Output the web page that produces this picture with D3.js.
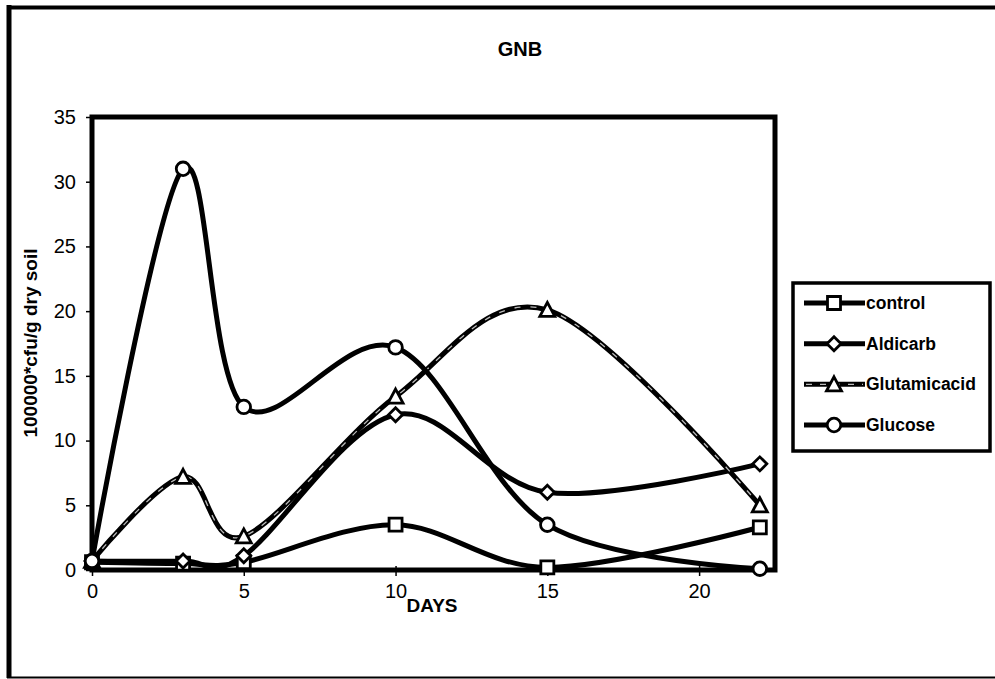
<!DOCTYPE html>
<html>
<head>
<meta charset="utf-8">
<script src="https://cdn.jsdelivr.net/npm/d3@7/dist/d3.min.js"></script>
<style>
  html, body { margin: 0; padding: 0; background: #fff; }
  svg { display: block; }
  text { font-family: "Liberation Sans", Arial, sans-serif; fill: #000; }
</style>
</head>
<body>
<svg id="chart" width="995" height="679"></svg>
<script>
// Sampling days and colony counts (x 100000 cfu/g dry soil)
const days = [0, 3, 5, 10, 15, 22];
const control = [0.6, 0.5, 0.6, 3.5, 0.2, 3.3];
const aldicarb = [0.7, 0.7, 1.1, 12.0, 6.0, 8.2];
const glutamicacid = [0.7, 7.2, 2.6, 13.4, 20.1, 5.0];
const glucose = [0.7, 31.0, 12.6, 17.2, 3.5, 0.1];
const seriesNames = ["control", "Aldicarb", "Glutamicacid", "Glucose"];
const seriesMarkers = ["square", "diamond", "triangle", "circle"];
const xTicks = [0, 5, 10, 15, 20];
const yTicks = [0, 5, 10, 15, 20, 25, 30, 35];

const seriesValues = [control, aldicarb, glutamicacid, glucose];
const series = seriesNames.map((name, i) => ({
  name,
  marker: seriesMarkers[i],
  points: days.map((d, j) => ({ x: d, y: seriesValues[i][j] }))
}));

const svg = d3.select("#chart");

// Outer frame
svg.append("line").attr("x1", 9).attr("x2", 9).attr("y1", 5).attr("y2", 678)
  .attr("stroke", "#000").attr("stroke-width", 5);
svg.append("line").attr("x1", 7).attr("x2", 995).attr("y1", 7.5).attr("y2", 7.5)
  .attr("stroke", "#000").attr("stroke-width", 4);
svg.append("line").attr("x1", 7).attr("x2", 995).attr("y1", 677.5).attr("y2", 677.5)
  .attr("stroke", "#000").attr("stroke-width", 2);

const plot = { left: 92, right: 775, top: 117, bottom: 570 };

const x = d3.scaleLinear().domain([0, 22.5]).range([plot.left, plot.right]);
const y = d3.scaleLinear().domain([0, 35]).range([plot.bottom, plot.top]);

// Title
svg.append("text").attr("x", 520).attr("y", 56).attr("text-anchor", "middle")
  .attr("font-size", 20).attr("font-weight", "bold").text("GNB");

// Axes
const yAxis = d3.axisLeft(y).tickValues(yTicks).tickSize(6).tickPadding(10);
const yG = svg.append("g").attr("transform", `translate(${plot.left},0)`).call(yAxis);
const xAxis = d3.axisBottom(x).tickValues(xTicks).tickSize(6).tickPadding(8);
const xG = svg.append("g").attr("transform", `translate(0,${plot.bottom})`).call(xAxis);
[yG, xG].forEach(g => {
  g.attr("font-size", 20).attr("font-family", "Liberation Sans, Arial, sans-serif");
  g.select(".domain").remove();
  g.selectAll(".tick line").attr("stroke", "#000").attr("stroke-width", 1.5);
  g.selectAll(".tick text").attr("fill", "#000");
});
xG.selectAll(".tick line").attr("y1", -4);

// Plot area border
svg.append("rect").attr("x", plot.left).attr("y", plot.top)
  .attr("width", plot.right - plot.left).attr("height", plot.bottom - plot.top)
  .attr("fill", "none").attr("stroke", "#000").attr("stroke-width", 5);

// Axis titles
svg.append("text").attr("x", 432).attr("y", 612).attr("text-anchor", "middle")
  .attr("font-size", 19).attr("font-weight", "bold").text("DAYS");
svg.append("text").attr("transform", "translate(37,343) rotate(-90)")
  .attr("text-anchor", "middle").attr("font-size", 19).attr("font-weight", "bold")
  .text("100000*cfu/g dry soil");

// Smoothed lines
const line = d3.line().x(d => x(d.x)).y(d => y(d.y)).curve(d3.curveCatmullRom.alpha(0));
const lineG = svg.append("g");
series.forEach(s => {
  lineG.append("path").attr("d", line(s.points)).attr("fill", "none")
    .attr("stroke", "#000").attr("stroke-width", 5).attr("stroke-linejoin", "round");
  if (s.name === "Glutamicacid") {
    lineG.append("path").attr("d", line(s.points)).attr("fill", "none")
      .attr("stroke", "#bbb").attr("stroke-width", 1.3).attr("stroke-dasharray", "6 10");
  }
});

// Marker shapes
function markerPath(type) {
  switch (type) {
    case "square": return "M-6.5,-6.5H6.5V6.5H-6.5Z";
    case "diamond": return "M0,-7L7,0L0,7L-7,0Z";
    case "triangle": return "M0,-7.5L7.5,6.5H-7.5Z";
    default: return d3.symbol(d3.symbolCircle, 145)();
  }
}
const markG = svg.append("g");
series.forEach(s => {
  markG.selectAll(null).data(s.points).join("path")
    .attr("transform", d => `translate(${x(d.x)},${y(d.y)})`)
    .attr("d", markerPath(s.marker))
    .attr("fill", "#fff").attr("stroke", "#000").attr("stroke-width", 2.8);
});

// Legend
const leg = svg.append("g");
leg.append("rect").attr("x", 793).attr("y", 283).attr("width", 197).attr("height", 168)
  .attr("fill", "#fff").attr("stroke", "#000").attr("stroke-width", 3.5);
const legY = d3.scalePoint().domain(seriesNames).range([303, 425]);
series.forEach(s => {
  const yy = legY(s.name);
  leg.append("line").attr("x1", 804).attr("x2", 865).attr("y1", yy).attr("y2", yy)
    .attr("stroke", "#000").attr("stroke-width", 5);
  if (s.name === "Glutamicacid") {
    leg.append("line").attr("x1", 806).attr("x2", 863).attr("y1", yy).attr("y2", yy)
      .attr("stroke", "#bbb").attr("stroke-width", 1.3).attr("stroke-dasharray", "6 8");
  }
  leg.append("path").attr("transform", `translate(834,${yy})`).attr("d", markerPath(s.marker))
    .attr("fill", "#fff").attr("stroke", "#000").attr("stroke-width", 2.8);
  leg.append("text").attr("x", 866).attr("y", yy + 6).attr("font-size", 17.5)
    .attr("font-weight", "bold").text(s.name);
});
</script>
</body>
</html>
